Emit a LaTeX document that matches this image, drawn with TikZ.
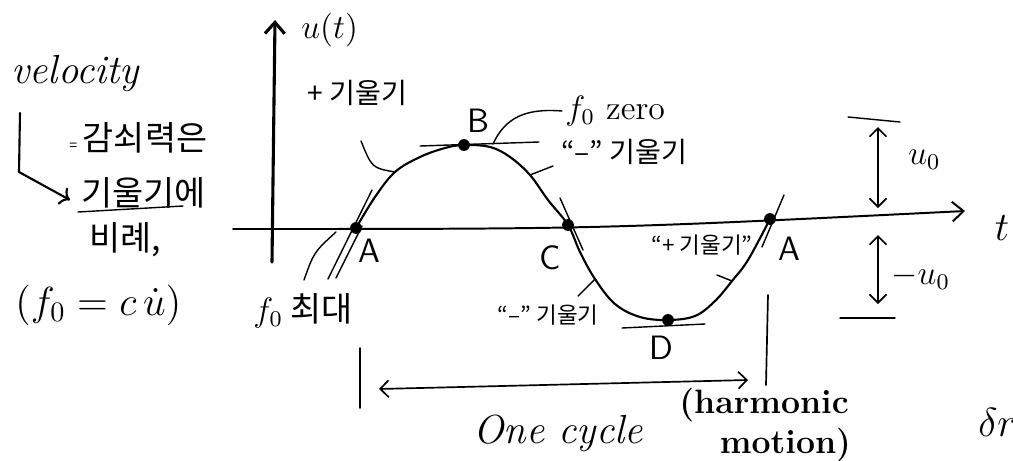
\documentclass[tikz,border=0pt]{standalone}
\usepackage{fontspec}
\newfontfamily\kr{Noto Sans CJK KR}
\usetikzlibrary{arrows.meta}
\tikzset{
  hand/.style={line width=0.75pt, line cap=round, line join=round},
  axisline/.style={line width=1.1pt, line cap=round, -{Straight Barb[length=4pt,width=7pt]}},
  tanline/.style={line width=0.5pt, line cap=round},
  leader/.style={line width=0.5pt, line cap=round},
  twoway/.style={line width=0.6pt, {Straight Barb[length=3pt,width=6pt]}-{Straight Barb[length=3pt,width=6pt]}},
  dot/.style={circle, fill, inner sep=0pt, minimum size=4.2pt},
  lbl/.style={inner sep=1pt},
  krlbl/.style={inner sep=1pt, font=\kr},
  ptlbl/.style={inner sep=1pt, font=\large\sffamily},
}
\begin{document}
\begin{tikzpicture}[x=0.355pt, y=-0.355pt]
  \useasboundingbox (0,0) rectangle (1013,460);
  % Axes
  \coordinate (ybot) at (272,262);
  \coordinate (ytop) at (275,20);
  \coordinate (xleft) at (233,229);
  \coordinate (xright) at (965,211);
  \draw[axisline] (ybot) -- (ytop);
  \draw[axisline, line width=0.7pt] (xleft) .. controls (600,229) .. (xright);
  \node[lbl, font=\large\bfseries, anchor=west] (ulab) at (298,30) {$u(t)$};
  \node[lbl, font=\Large] (tlab) at (1002,228) {$t$};
  % Points on the curve
  \coordinate (A1) at (356,228);
  \coordinate (s1) at (395,172);
  \coordinate (B) at (464,145);
  \coordinate (s2) at (530,175);
  \coordinate (C) at (568,225);
  \coordinate (s3) at (595,279);
  \coordinate (D) at (668,320);
  \coordinate (s4) at (732,281);
  \coordinate (A2) at (770,219);
  % One cycle
  \draw[hand] plot[smooth, tension=0.6] coordinates {(A1) (375,197) (s1) (420,157)
    (445,148) (B) (490,147) (510,157) (s2) (548,200) (C) (580,252) (s3) (615,304)
    (640,317) (D) (695,316) (715,301) (s4) (748,260) (A2)};
  % Tangents
  \draw[tanline] (A1) ++(-28,51) -- ++(44,-89);
  \draw[tanline] (A1) ++(-20,50) -- ++(26,-52);
  \draw[tanline] (B) ++(-44,1) -- ++(119,-4);
  \draw[tanline] (C) ++(-8,-27) -- ++(23,52);
  \draw[tanline] (D) ++(-46,8) -- ++(83,-4);
  \draw[tanline] (A2) ++(-8,28) -- ++(22,-52);
  \foreach \p in {A1,B,C,D,A2}
    \node[dot] at (\p) {};
  % Point labels
  \node[ptlbl] (Alab1) at (369,251) {A};
  \node[ptlbl] (Blab) at (478,121) {B};
  \node[ptlbl] (Clab) at (550,258) {C};
  \node[ptlbl] (Dlab) at (661,348) {D};
  \node[ptlbl] (Alab2) at (789,249) {A};
  % Slope notes
  \node[krlbl, anchor=west] (plusup) at (304,93) {+ 기울기};
  \coordinate (pl) at (361,141);
  \draw[leader] (pl) .. controls (372,168) .. (s1);
  \node[lbl, font=\large, anchor=west] (fzero) at (562,111) {$f_0$ zero};
  \coordinate (bt) at (493,144);
  \draw[leader] (bt) .. controls (505,118) and (525,108) .. (fzero.west);
  \node[krlbl, anchor=west] (minusup) at (558,152) {“–” 기울기};
  \coordinate (ms) at (553,166);
  \draw[leader] (s2) -- (ms);
  \node[krlbl, font=\kr\footnotesize, anchor=east] (minuslow) at (602,315) {“–” 기울기};
  \coordinate (ml) at (578,296);
  \draw[leader] (ml) -- (s3);
  \node[krlbl, font=\kr\footnotesize, anchor=east] (pluslow) at (756,245) {“+ 기울기”};
  \coordinate (pk) at (717,275);
  \draw[leader] (pk) -- (s4);
  \node[krlbl, font=\kr\large, anchor=west] (fmax) at (250,311) {$f_0$ 최대};
  \coordinate (fm) at (304,280);
  \draw[leader] (fm) .. controls (314,252) .. (336,232);
  % Amplitude
  \coordinate (ut1) at (848,117);
  \coordinate (ut2) at (900,122);
  \draw[leader] (ut1) -- (ut2);
  \coordinate (ua) at (878,127);
  \coordinate (ub) at (878,208);
  \draw[twoway] (ua) -- (ub);
  \node[lbl, font=\large, anchor=west] (u0) at (905,160) {$u_0$};
  \coordinate (uc) at (878,235);
  \coordinate (ud) at (878,304);
  \draw[twoway] (uc) -- (ud);
  \coordinate (ub1) at (840,318);
  \coordinate (ub2) at (895,318);
  \draw[leader] (ub1) -- (ub2);
  \node[lbl, font=\large, anchor=west] (mu0) at (888,277) {$-u_0$};
  % Period
  \coordinate (pa) at (360,348);
  \coordinate (pb) at (360,408);
  \draw[hand, line width=0.6pt] (pa) -- (pb);
  \coordinate (pc) at (768,295);
  \coordinate (pd) at (766,385);
  \draw[hand, line width=0.6pt] (pc) -- (pd);
  \coordinate (pe) at (379,389);
  \coordinate (pf) at (748,380);
  \draw[twoway] (pe) -- (pf);
  \node[lbl, font=\Large\itshape, anchor=west] (cyc) at (470,433) {One cycle};
  \node[lbl, font=\large\bfseries, anchor=west, align=left] (harm) at (676,425)
    {(harmonic\\\hspace*{1.2em}motion)};
  \node[lbl, font=\Large, anchor=west] (dr) at (975,422) {$\delta r$};
  % Left note
  \node[lbl, font=\Large\itshape, anchor=west] (vel) at (8,74) {velocity};
  \coordinate (va) at (20,113);
  \coordinate (vb) at (19,172);
  \coordinate (vc) at (70,200);
  \draw[hand, ->] (va) -- (vb) -- (vc);
  \node[krlbl, font=\kr\large, anchor=west] (damp) at (66,138) {{\tiny =}\,감쇠력은};
  \node[krlbl, font=\kr\large, anchor=west] (slope) at (78,193) {기울기에};
  \coordinate (sa) at (78,212);
  \coordinate (sb) at (183,206);
  \draw[leader] (sa) -- (sb);
  \node[krlbl, font=\kr\large, anchor=west] (prop) at (86,240) {비례,};
  \node[lbl, font=\Large, anchor=west] (feq) at (12,305) {$(f_0 = c\,\dot{u})$};
\end{tikzpicture}
\end{document}
